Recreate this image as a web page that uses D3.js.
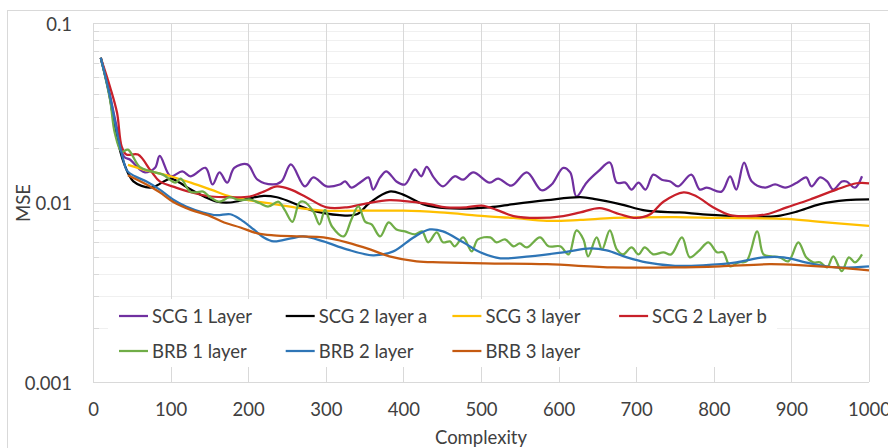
<!DOCTYPE html>
<html>
<head>
<meta charset="utf-8">
<script src="https://cdnjs.cloudflare.com/ajax/libs/d3/7.8.5/d3.min.js"></script>
<style>
  body { margin: 0; background: #fff; }
  svg text { font-family: Lato, "Open Sans", sans-serif; fill: #404040; }
</style>
</head>
<body>
<svg id="chart"></svg>
<script>
var svgWidth = 888;
var svgHeight = 448;

// plot area (pixels)
var plot = { left: 93, right: 869, top: 23, bottom: 382 };

var xTicks = [0, 100, 200, 300, 400, 500, 600, 700, 800, 900, 1000];
var yTicks = [0.001, 0.01, 0.1];
var yTickLabels = ['0.001', '0.01', '0.1'];

var seriesNames = ['SCG 1 Layer', 'SCG 2 layer a', 'SCG 3 layer', 'SCG 2 Layer b', 'BRB 1 layer', 'BRB 2 layer', 'BRB 3 layer'];
var seriesColors = ['#7030A0', '#000000', '#FFC000', '#C8202A', '#70AD47', '#2E75B6', '#C55A11'];

// [complexity, MSE]
var scg1Layer = [[10,0.064],[20,0.043],[30,0.027],[40,0.018],[48,0.0173],[60,0.0153],[67,0.0147],[80,0.0156],[86,0.0182],
  [100,0.0140],[115,0.0149],[126,0.0140],[145,0.0156],[154,0.0126],[163,0.0147],[173,0.0129],[182,0.0156],[199,0.0163],
  [212,0.0134],[232,0.0126],[243,0.0131],[255,0.0163],[273,0.0123],[284,0.0138],[301,0.0123],[318,0.0126],[325,0.0131],
  [333,0.0121],[346,0.0131],[355,0.0138],[361,0.0118],[370,0.0138],[378,0.0149],[385,0.0140],[391,0.0131],[402,0.0126],
  [415,0.0153],[423,0.0140],[430,0.0158],[439,0.0138],[451,0.0123],[466,0.0140],[477,0.0134],[490,0.0147],[511,0.0129],
  [522,0.0136],[539,0.0124],[559,0.0147],[578,0.0117],[591,0.0126],[606,0.0156],[615,0.0147],[623,0.0108],[636,0.0129],
  [651,0.0149],[666,0.0167],[675,0.0129],[686,0.0129],[694,0.0118],[703,0.0129],[712,0.0118],[722,0.0143],[733,0.0134],
  [744,0.0131],[754,0.0123],[771,0.0143],[782,0.0118],[791,0.0121],[810,0.0115],[821,0.0140],[829,0.0118],[839,0.0167],
  [849,0.0131],[866,0.0121],[879,0.0126],[892,0.0121],[907,0.0129],[919,0.0138],[926,0.0123],[937,0.0138],[946,0.0131],
  [954,0.0118],[965,0.0131],[971,0.0131],[982,0.0121],[991,0.0140]];

var scg2LayerA = [[10,0.064],[20,0.042],[30,0.024],[40,0.0165],[52,0.0131],[73,0.0121],[80,0.0123],[100,0.0136],[109,0.0131],
  [126,0.0118],[143,0.0108],[160,0.0101],[177,0.0100],[200,0.0105],[220,0.0109],[237,0.0107],[254,0.0101],[280,0.0091],
  [318,0.0085],[340,0.0086],[357,0.0100],[382,0.0115],[399,0.0111],[425,0.0098],[455,0.0093],[511,0.0094],[542,0.0098],
  [585,0.0103],[628,0.0107],[649,0.0104],[679,0.0098],[713,0.0090],[756,0.0088],[786,0.0086],[829,0.0084],[881,0.0084],
  [907,0.0089],[937,0.0098],[971,0.0103],[1000,0.0104]];

var scg3Layer = [[45,0.0162],[74,0.0149],[100,0.0140],[126,0.0129],[152,0.0118],[177,0.0108],[200,0.0103],[233,0.0098],
  [267,0.0093],[297,0.0090],[340,0.0090],[400,0.0090],[447,0.0088],[505,0.0084],[542,0.0082],[585,0.0079],[628,0.0080],
  [671,0.0082],[750,0.0083],[808,0.0082],[894,0.0081],[937,0.0078],[1000,0.0074]];

var scg2LayerB = [[10,0.064],[22,0.044],[31,0.0316],[37,0.0205],[43,0.0185],[58,0.0185],[75,0.0149],[86,0.0131],[107,0.0121],
  [126,0.0114],[152,0.0108],[177,0.0107],[202,0.0108],[220,0.0115],[237,0.0123],[255,0.0118],[275,0.0107],[301,0.0094],
  [327,0.0094],[353,0.0099],[382,0.0103],[408,0.0101],[433,0.0098],[455,0.0094],[481,0.0094],[501,0.0096],[520,0.0091],
  [542,0.0084],[572,0.0082],[606,0.0084],[628,0.0088],[653,0.0093],[679,0.0086],[700,0.0082],[718,0.0086],[735,0.0101],
  [761,0.0114],[778,0.0108],[799,0.0094],[821,0.0085],[842,0.0084],[868,0.0086],[894,0.0094],[924,0.0104],[958,0.0118],
  [984,0.0128],[1000,0.0128]];

var brb1Layer = [[10,0.064],[22,0.0373],[28,0.0245],[37,0.0192],[45,0.0197],[60,0.0158],[75,0.0149],[90,0.0143],[106,0.0129],
  [113,0.0136],[125,0.0115],[133,0.0114],[142,0.0115],[150,0.0108],[163,0.0101],[176,0.0107],[189,0.0103],[202,0.0104],
  [215,0.0099],[226,0.0095],[239,0.0101],[247,0.0091],[257,0.0078],[266,0.0100],[272,0.0101],[284,0.0089],[292,0.00755],
  [299,0.0091],[308,0.00735],[323,0.00647],[333,0.00805],[342,0.0095],[351,0.0078],[359,0.00755],[370,0.00647],[381,0.00774],
  [391,0.00708],[402,0.0069],[415,0.00664],[424,0.0069],[432,0.0060],[443,0.00681],[451,0.0060],[460,0.00607],[466,0.0057],
  [477,0.00639],[488,0.00534],[496,0.00623],[512,0.00639],[520,0.0060],[531,0.00623],[542,0.0057],[550,0.00592],[559,0.00562],
  [576,0.00639],[587,0.0057],[602,0.0057],[613,0.00514],[623,0.00699],[632,0.00623],[638,0.00501],[649,0.00639],[656,0.00548],
  [666,0.00699],[675,0.00548],[683,0.00514],[694,0.00562],[703,0.00514],[711,0.00562],[722,0.00514],[735,0.00528],[745,0.00514],
  [759,0.00639],[769,0.00495],[780,0.00534],[793,0.0060],[804,0.00528],[812,0.00528],[821,0.00441],[832,0.00464],[842,0.0047],
  [856,0.0069],[864,0.00514],[874,0.00501],[885,0.00495],[896,0.0047],[909,0.0060],[919,0.00495],[928,0.00464],[937,0.00464],
  [946,0.00435],[954,0.00501],[965,0.00414],[974,0.00495],[982,0.00464],[991,0.00514]];

var brb2Layer = [[10,0.064],[22,0.0388],[31,0.0245],[39,0.0173],[44,0.0150],[54,0.0140],[69,0.0131],[86,0.0118],[103,0.0104],
  [120,0.0095],[142,0.0088],[159,0.0085],[177,0.0086],[190,0.00805],[207,0.00708],[220,0.00639],[233,0.00607],[255,0.00631],
  [271,0.00647],[297,0.00607],[327,0.00548],[361,0.00508],[387,0.00534],[413,0.00639],[434,0.00708],[451,0.0069],[477,0.0060],
  [499,0.00528],[525,0.00489],[563,0.00501],[606,0.00528],[641,0.00555],[662,0.00541],[688,0.00495],[713,0.00464],[750,0.00444],
  [786,0.00447],[829,0.00464],[864,0.00495],[890,0.00495],[924,0.00458],[958,0.00435],[1000,0.00441]];

var brb3Layer = [[45,0.0142],[69,0.0126],[86,0.0114],[103,0.0101],[126,0.0091],[148,0.0085],[169,0.00774],[190,0.00726],
  [212,0.00673],[233,0.00656],[267,0.00647],[297,0.00639],[327,0.0060],[357,0.00548],[382,0.00501],[417,0.0047],[447,0.00464],
  [505,0.00458],[585,0.00453],[671,0.00435],[750,0.00435],[808,0.00441],[872,0.00453],[915,0.00447],[958,0.00435],[1000,0.00419]];

var allSeries = [scg1Layer, scg2LayerA, scg3Layer, scg2LayerB, brb1Layer, brb2Layer, brb3Layer];

var xScale = d3.scaleLinear().domain([0, 1000]).range([plot.left, plot.right]);
var yScale = d3.scaleLog().domain([0.001, 0.1]).range([plot.bottom, plot.top]);

var svg = d3.select('#chart').attr('width', svgWidth).attr('height', svgHeight);

// chart border
svg.append('rect')
   .attr('x', 7.5).attr('y', 10.5)
   .attr('width', 900).attr('height', 460)
   .attr('fill', '#fff').attr('stroke', '#d9d9d9');

// minor horizontal gridlines
var minorValues = [];
[0.001, 0.01].forEach(function(base){
  for (var m = 2; m <= 9; m++) minorValues.push(base * m);
});
var grid = svg.append('g').attr('class', 'grid');
grid.selectAll('.minor')
    .data(minorValues)
    .enter().append('line')
    .attr('x1', plot.left).attr('x2', plot.right)
    .attr('y1', (d) => Math.round(yScale(d)) + 0.5)
    .attr('y2', (d) => Math.round(yScale(d)) + 0.5)
    .attr('stroke', '#f0f0f0');
grid.selectAll('.minorTick')
    .data(minorValues)
    .enter().append('line')
    .attr('x1', plot.left).attr('x2', plot.left + 6)
    .attr('y1', (d) => Math.round(yScale(d)) + 0.5)
    .attr('y2', (d) => Math.round(yScale(d)) + 0.5)
    .attr('stroke', '#d9d9d9');
grid.selectAll('.major')
    .data(yTicks)
    .enter().append('line')
    .attr('x1', plot.left).attr('x2', plot.right)
    .attr('y1', (d) => Math.round(yScale(d)) + 0.5)
    .attr('y2', (d) => Math.round(yScale(d)) + 0.5)
    .attr('stroke', '#d9d9d9');
grid.selectAll('.vert')
    .data(xTicks)
    .enter().append('line')
    .attr('x1', (d) => Math.round(xScale(d)) + 0.5)
    .attr('x2', (d) => Math.round(xScale(d)) + 0.5)
    .attr('y1', plot.top).attr('y2', plot.bottom)
    .attr('stroke', '#d9d9d9');

// axes (labels only)
var xAxis = svg.append('g')
   .attr('transform', 'translate(0,' + plot.bottom + ')')
   .call(d3.axisBottom(xScale).tickValues(xTicks).tickSize(0).tickPadding(21).tickFormat(d3.format('d')));
var yAxis = svg.append('g')
   .attr('transform', 'translate(' + plot.left + ',0)')
   .call(d3.axisLeft(yScale).tickValues(yTicks).tickSize(0).tickPadding(21).tickFormat((d, i) => yTickLabels[i]));
[xAxis, yAxis].forEach(function(ax){
  ax.select('.domain').remove();
  ax.selectAll('text').attr('font-size', '18.5px').attr('fill', '#404040')
    .style('font-family', 'Lato, sans-serif');
});
yAxis.selectAll('text').attr('dy', '0.4em');

// lines
var line = d3.line()
   .x((d) => xScale(d[0]))
   .y((d) => yScale(d[1]))
   .curve(d3.curveCatmullRom.alpha(0.5));

svg.append('g').attr('class', 'lines')
   .selectAll('path')
   .data(allSeries)
   .enter().append('path')
   .attr('d', line)
   .attr('fill', 'none')
   .attr('stroke', (d, i) => seriesColors[i])
   .attr('stroke-width', 2.25)
   .attr('stroke-linejoin', 'round');

// legend
var key = svg.append('g').attr('class', 'key');
key.append('rect')
   .attr('x', 108).attr('y', 299)
   .attr('width', 669).attr('height', 68)
   .attr('fill', '#fff');

var keyItems = key.selectAll('.keyItem')
   .data(seriesNames)
   .enter().append('g')
   .attr('transform', (d, i) => 'translate(' + (119 + (i % 4) * 166.7) + ',' + (316 + Math.floor(i / 4) * 35) + ')');
keyItems.append('line')
   .attr('x1', 0).attr('x2', 29)
   .attr('y1', 0).attr('y2', 0)
   .attr('stroke', (d, i) => seriesColors[i])
   .attr('stroke-width', 2.25);
keyItems.append('text')
   .attr('x', 33).attr('y', 6.5)
   .attr('font-size', '18.5px')
   .text((d) => d);

// axis titles
svg.append('text')
   .text('Complexity')
   .attr('text-anchor', 'middle')
   .attr('font-size', '18.5px')
   .attr('x', (plot.left + plot.right) / 2)
   .attr('y', 444);
svg.append('text')
   .text('MSE')
   .attr('text-anchor', 'middle')
   .attr('font-size', '18.5px')
   .attr('transform', 'translate(30,203)rotate(-90)');
</script>
</body>
</html>
